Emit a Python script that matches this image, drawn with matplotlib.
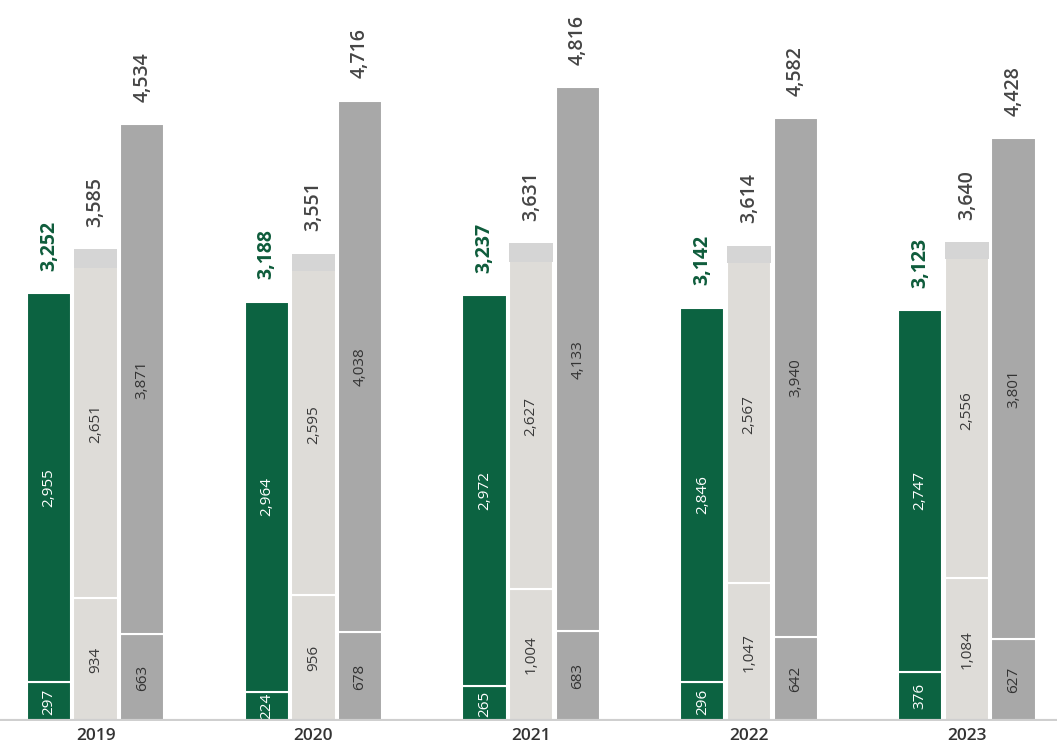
import numpy as np
import matplotlib
matplotlib.use("Agg")
import matplotlib.pyplot as plt

plt.rcParams['font.family'] = ['Open Sans', 'DejaVu Sans']

years = ["2019", "2020", "2021", "2022", "2023"]
green_bottom = [297, 224, 265, 296, 376]
green_top = [2955, 2964, 2972, 2846, 2747]
green_total = [3252, 3188, 3237, 3142, 3123]
light_bottom = [934, 956, 1004, 1047, 1084]
light_top = [2651, 2595, 2627, 2567, 2556]
light_total = [3585, 3551, 3631, 3614, 3640]
light_cap = [140, 130, 140, 130, 130]   # slightly darker top band of the light bar
dark_bottom = [663, 678, 683, 642, 627]
dark_top = [3871, 4038, 4133, 3940, 3801]
dark_total = [4534, 4716, 4816, 4582, 4428]

GREEN = "#0c6341"
GREEN_TXT = "#0e5c3b"
LIGHT = "#dedcd8"
LIGHT_CAP = "#d5d5d5"
DARK = "#a8a8a8"

fig = plt.figure(figsize=(10.57, 7.48), dpi=100)
ax = fig.add_axes([0, 0.036, 1, 0.964])

x = np.arange(len(years))
w = 0.203
off = 0.214

def fmt(v):
    return f"{v:,}"

# green bars
gb = np.array(green_bottom); gt = np.array(green_top)
ax.bar(x - off, gb, w, color=GREEN, edgecolor="white", linewidth=1.5)
ax.bar(x - off, gt, w, bottom=gb, color=GREEN, edgecolor="white", linewidth=1.5)

# light bars
lb = np.array(light_bottom); lt = np.array(light_top); lc = np.array(light_cap)
ax.bar(x, lb, w, color=LIGHT, edgecolor="white", linewidth=1.5)
ax.bar(x, lt, w, bottom=lb, color=LIGHT, edgecolor="white", linewidth=1.5)
ax.bar(x, lc, w * 0.985, bottom=lb + lt - lc, color=LIGHT_CAP, linewidth=0, zorder=3)

# dark bars
db = np.array(dark_bottom); dt = np.array(dark_top)
ax.bar(x + off, db, w, color=DARK, edgecolor="white", linewidth=1.5)
ax.bar(x + off, dt, w, bottom=db, color=DARK, edgecolor="white", linewidth=1.5)

IN_FS = 11
TOT_FS = 14
for i in range(len(years)):
    # inner labels
    ax.text(x[i] - off, gb[i] / 2, fmt(gb[i]), rotation=90, ha="center", va="center",
            color="white", fontsize=IN_FS)
    ax.text(x[i] - off, gb[i] + gt[i] / 2, fmt(gt[i]), rotation=90, ha="center", va="center",
            color="white", fontsize=IN_FS)
    ax.text(x[i], lb[i] / 2, fmt(lb[i]), rotation=90, ha="center", va="center",
            color="#3a3a3a", fontsize=IN_FS)
    ax.text(x[i], lb[i] + lt[i] / 2, fmt(lt[i]), rotation=90, ha="center", va="center",
            color="#3a3a3a", fontsize=IN_FS)
    ax.text(x[i] + off, db[i] / 2, fmt(db[i]), rotation=90, ha="center", va="center",
            color="#333333", fontsize=IN_FS)
    ax.text(x[i] + off, db[i] + dt[i] / 2, fmt(dt[i]), rotation=90, ha="center", va="center",
            color="#333333", fontsize=IN_FS)
    # totals
    ax.text(x[i] - off, green_total[i] + 170, fmt(green_total[i]), rotation=90,
            ha="center", va="bottom", color=GREEN_TXT, fontsize=TOT_FS, fontweight="bold")
    ax.text(x[i], light_total[i] + 170, fmt(light_total[i]), rotation=90,
            ha="center", va="bottom", color="#454545", fontsize=TOT_FS, fontweight="semibold")
    ax.text(x[i] + off, dark_total[i] + 170, fmt(dark_total[i]), rotation=90,
            ha="center", va="bottom", color="#454545", fontsize=TOT_FS, fontweight="semibold")

x0 = -95.6 / 217.8
ax.set_xlim(x0, x0 + 1057 / 217.8)
ax.set_ylim(0, 5480)
ax.axhline(0, color="#cfcfcf", linewidth=3, zorder=5)
for s in ax.spines.values():
    s.set_visible(False)
ax.set_yticks([])
ax.set_xticks(x)
ax.set_xticklabels(years, fontsize=12.5, color="#333333", fontweight="semibold")
ax.tick_params(axis="x", length=0, pad=5)
ax.patch.set_alpha(0)

fig.savefig("out.png", dpi=100)
